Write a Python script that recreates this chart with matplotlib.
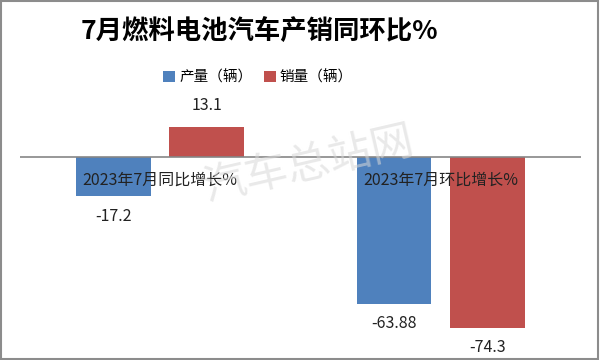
import numpy as np
import matplotlib.pyplot as plt
from matplotlib.patches import Rectangle

plt.rcParams['font.family'] = ['Noto Sans CJK SC', 'DejaVu Sans']

categories = ['2023年7月同比增长%', '2023年7月环比增长%']
series_names = ['产量（辆）', '销量（辆）']
production = [-17.2, -63.88]
sales = [13.1, -74.3]
value_labels_prod = ['-17.2', '-63.88']
value_labels_sales = ['13.1', '-74.3']
colors = ['#4F81BD', '#C0504D']


def main():
    fig = plt.figure(figsize=(6, 3.6), dpi=100)
    ax = fig.add_axes([0.033, 0.053, 0.935, 0.671])

    x = np.arange(len(categories))
    w = 0.267
    off = 0.166
    b1 = ax.bar(x - off, production, w, color=colors[0], label=series_names[0])
    b2 = ax.bar(x + off, sales, w, color=colors[1], label=series_names[1])

    ax.set_xlim(-0.5, len(categories) - 0.5)
    ax.set_ylim(-80, 25)
    ax.axhline(0, color='#868686', lw=1.2)
    for s in ax.spines.values():
        s.set_visible(False)
    ax.set_xticks([])
    ax.set_yticks([])

    # data labels
    for bars, labels in ((b1, value_labels_prod), (b2, value_labels_sales)):
        for bar, lab in zip(bars, labels):
            h = bar.get_height()
            cx = bar.get_x() + bar.get_width() / 2
            if h >= 0:
                ax.annotate(lab, (cx, h), xytext=(0, 9), textcoords='offset points',
                            ha='center', va='bottom', fontsize=11.5, color='#222222')
            else:
                ax.annotate(lab, (cx, h), xytext=(0, -8), textcoords='offset points',
                            ha='center', va='top', fontsize=11.5, color='#222222')

    # category labels near the zero line
    for i, c in enumerate(categories):
        ax.annotate(c, (x[i], 0), xytext=(0, -17), textcoords='offset points',
                    ha='center', va='center', fontsize=11.5, color='#222222')

    # watermark
    fig.text(0.515, 0.54, '汽车总站网', fontsize=31, color='#d8d8d8', alpha=0.55,
             rotation=13, ha='center', va='center')

    fig.text(0.433, 0.91, '7月燃料电池汽车产销同环比%', fontsize=19,
             fontweight='bold', ha='center', va='center')

    handles = [b1, b2]
    fig.legend(handles, series_names, loc='center', bbox_to_anchor=(0.43, 0.785),
               ncol=2, frameon=False, fontsize=10.5, handlelength=0.8,
               handleheight=0.8, handletextpad=0.3, columnspacing=0.8)

    fig.patches.append(Rectangle((0.002, 0.003), 0.995, 0.993, transform=fig.transFigure,
                                 fill=False, edgecolor='#8c8c8c', lw=1.5))

    fig.savefig('out.png', dpi=100)


if __name__ == "__main__":
    main()
